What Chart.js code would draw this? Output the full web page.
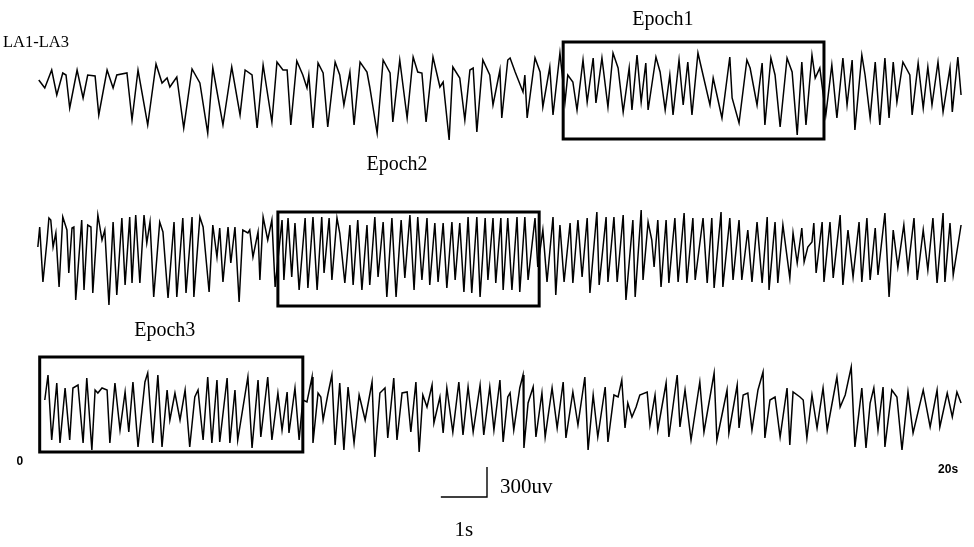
<!DOCTYPE html>
<html>
<head>
<meta charset="utf-8">
<title>LA1-LA3</title>
<script src="https://cdn.jsdelivr.net/npm/chart.js@4.4.1/dist/chart.umd.min.js"></script>
<style>
  html, body { margin: 0; padding: 0; background: #fff; }
  canvas { display: block; }
</style>
</head>
<body>
<canvas id="eeg" width="974" height="547"></canvas>
<script>
// LA1-LA3 bipolar channel, three rows of 20 s each.
// Times in seconds, amplitudes in uV (turning points of the trace).
const row1Time = [0.02,0.15,0.30,0.41,0.54,0.61,0.69,0.85,0.98,1.08,1.24,1.32,1.50,1.63,1.71,1.93,2.04,2.17,2.38,2.56,2.69,2.80,2.86,3.01,3.16,3.34,3.51,3.68,3.79,4.01,4.20,4.38,4.49,4.64,4.75,4.88,
  5.07,5.18,5.31,5.40,5.48,5.61,5.74,5.83,5.87,5.96,6.07,6.18,6.28,6.44,6.54,6.63,6.76,6.85,6.98,7.13,7.19,7.35,7.48,7.63,7.69,7.84,8.00,8.13,8.23,8.32,8.41,8.56,8.65,8.71,8.78,8.91,8.99,9.14,9.25,9.36,9.43,9.51,9.64,9.79,9.86,10.01,10.05,10.18,
  10.23,10.34,10.51,10.55,10.60,10.77,10.88,10.94,11.09,11.16,11.31,11.42,11.48,11.59,11.68,11.81,11.90,12.03,12.09,12.22,12.35,12.46,12.57,12.68,12.81,12.87,12.98,13.07,13.17,13.22,13.39,13.48,13.59,13.69,13.76,13.89,13.98,14.08,14.17,14.30,14.41,14.56,14.63,14.82,14.99,15.04,15.19,15.36,
  15.43,15.58,15.69,15.75,15.88,15.97,16.08,16.23,16.34,16.45,16.55,16.64,16.77,16.84,16.94,17.07,17.20,17.31,17.44,17.53,17.64,17.70,17.85,17.92,18.03,18.14,18.24,18.35,18.44,18.53,18.61,18.74,18.89,18.94,19.07,19.18,19.28,19.37,19.50,19.61,19.76,19.81,19.93,20.00];
const row1Volt = [150,70,250,0,220,200,-130,250,-30,200,190,-200,250,70,200,220,-250,250,-300,310,120,170,80,180,-330,260,120,-380,270,-300,280,-200,250,200,-330,300,
  -270,330,250,250,-300,340,200,70,200,-330,320,220,-320,330,200,-100,230,-300,330,230,80,-380,350,220,-270,350,-230,380,230,220,-270,380,200,80,130,-450,280,170,-250,250,270,-370,350,200,-100,250,-230,350,
  370,230,30,200,-230,370,230,-120,280,-200,420,-70,200,130,-150,350,-70,370,-80,370,-120,420,270,-170,270,-150,400,-70,320,-150,380,230,-150,200,-200,350,-100,330,-200,420,200,-100,170,-230,380,-30,-280,350,
  270,-100,320,-300,370,200,-320,370,230,-400,330,-300,400,170,270,-200,300,-230,370,-100,350,-350,400,200,-230,330,-300,370,-230,330,-70,330,200,-200,320,-130,280,-100,330,-170,270,-170,380,0];

const row2Time = [0.00,0.04,0.11,0.20,0.24,0.28,0.33,0.39,0.46,0.54,0.63,0.67,0.74,0.78,0.82,0.95,1.00,1.08,1.15,1.19,1.30,1.39,1.45,1.54,1.63,1.71,1.82,1.89,1.99,2.04,2.12,2.21,2.30,2.36,2.43,2.51,2.64,2.71,2.82,2.95,3.01,3.14,3.21,3.34,3.38,3.51,3.58,3.71,3.79,3.88,3.94,4.01,4.12,4.18,4.27,4.36,4.44,4.55,4.59,4.66,4.77,4.81,4.88,4.98,
  5.07,5.14,5.29,5.33,5.42,5.50,5.57,5.66,5.79,5.85,5.96,6.05,6.15,6.20,6.31,6.37,6.48,6.54,6.65,6.76,6.83,6.93,7.02,7.13,7.19,7.30,7.37,7.48,7.56,7.67,7.76,7.87,7.95,8.06,8.15,8.23,8.32,8.43,8.49,8.60,8.67,8.78,8.86,8.97,9.04,9.14,9.23,9.32,9.40,9.51,9.58,9.69,9.75,9.86,9.92,10.03,10.08,10.18,
  10.27,10.38,10.44,10.55,10.62,10.77,10.83,10.94,11.03,11.16,11.22,11.31,11.40,11.53,11.59,11.70,11.79,11.90,11.96,12.11,12.16,12.31,12.35,12.48,12.55,12.68,12.74,12.89,12.94,13.07,13.11,13.22,13.30,13.35,13.43,13.50,13.61,13.67,13.80,13.87,14.00,14.06,14.19,14.24,14.41,14.50,14.60,14.65,14.80,14.84,14.99,15.06,15.19,15.25,15.38,
  15.47,15.58,15.69,15.80,15.84,15.97,16.03,16.14,16.29,16.36,16.45,16.55,16.60,16.68,16.77,16.81,16.86,16.99,17.03,17.16,17.23,17.38,17.44,17.55,17.66,17.79,17.85,17.96,18.03,18.14,18.20,18.35,18.44,18.53,18.63,18.76,18.85,18.98,19.05,19.18,19.28,19.39,19.48,19.61,19.65,19.76,19.83,20.00];
const row2Volt = [30,230,-320,100,320,300,30,170,-370,330,200,-230,220,230,-500,300,-400,250,230,-430,350,100,200,-550,280,-450,320,-350,330,-330,350,-330,350,70,280,-470,280,180,-480,280,-470,320,-430,330,-470,330,230,-420,250,-70,220,-320,230,-130,230,-520,200,170,200,-70,180,-300,330,100,
  300,-370,300,-300,320,-270,270,-400,320,-380,330,-400,330,-230,320,-300,320,170,-330,250,-350,300,-400,250,-350,330,-270,280,-470,320,-470,300,-280,350,-400,330,-300,320,-350,270,-320,270,-380,280,-300,270,-420,330,-430,330,-470,320,-300,320,-330,320,-400,320,
  -400,330,-420,330,-300,320,-170,200,-320,330,-450,250,-320,270,-330,300,-270,320,-430,380,-350,330,-320,330,-320,350,-500,300,-470,400,-300,280,100,-170,300,-370,300,-330,320,-320,370,-330,320,-300,320,-330,320,-380,380,-370,320,-300,300,-300,200,
  -320,280,-330,330,-400,280,-330,250,-280,170,-130,220,-120,30,80,270,-230,280,-320,280,-280,350,-350,200,-270,280,-320,320,-300,220,-250,370,-470,200,-170,250,-200,320,-300,200,-200,320,-330,370,-320,270,-250,250];

const row3Time = [0.15,0.22,0.30,0.41,0.48,0.59,0.69,0.76,0.87,0.98,1.06,1.17,1.24,1.30,1.39,1.50,1.56,1.67,1.78,1.89,1.97,2.06,2.17,2.32,2.38,2.49,2.60,2.69,2.80,2.86,2.97,3.08,3.19,3.29,3.40,3.47,3.58,3.68,3.77,3.88,3.94,4.10,4.16,4.27,4.33,4.55,4.64,4.77,4.83,4.98,
  5.07,5.20,5.29,5.40,5.44,5.57,5.66,5.74,5.83,5.94,5.96,6.07,6.13,6.18,6.28,6.37,6.44,6.54,6.63,6.72,6.85,6.96,7.09,7.24,7.30,7.41,7.52,7.58,7.71,7.78,7.89,8.00,8.08,8.19,8.26,8.34,8.43,8.54,8.58,8.71,8.78,8.86,8.99,9.12,9.21,9.32,9.43,9.58,9.66,9.79,9.88,10.01,10.08,10.18,
  10.23,10.31,10.44,10.51,10.53,10.62,10.73,10.79,10.92,10.99,11.14,11.25,11.38,11.44,11.59,11.70,11.85,11.92,12.03,12.13,12.29,12.35,12.48,12.57,12.65,12.72,12.78,12.87,12.96,13.04,13.20,13.26,13.37,13.43,13.61,13.67,13.85,13.91,14.02,14.15,14.34,14.43,14.65,14.71,14.93,14.97,15.15,15.19,15.28,15.38,
  15.47,15.60,15.71,15.75,15.86,15.97,16.08,16.23,16.29,16.36,16.51,16.58,16.66,16.77,16.88,17.01,17.10,17.31,17.38,17.49,17.62,17.70,17.85,17.94,18.03,18.11,18.20,18.31,18.35,18.50,18.61,18.72,18.85,18.96,19.18,19.33,19.48,19.54,19.70,19.81,19.91,20.00];
const row3Volt = [50,300,-350,220,-380,170,-350,170,200,-380,270,-450,150,120,170,150,-380,220,-250,130,-270,230,-420,230,320,-380,300,-420,150,-150,120,-150,150,-420,80,150,-350,280,-380,250,-370,270,-380,150,-350,280,-430,250,-320,280,
  -350,120,-250,130,-280,170,-350,50,30,280,-380,120,80,-150,100,300,-400,220,-450,180,-380,100,-150,230,-520,120,170,-330,270,-350,120,130,-270,230,-470,100,-20,200,-180,80,-280,170,-270,230,-300,180,-270,200,-300,180,-250,250,-370,80,
  120,-250,170,300,-430,20,180,-320,120,-320,170,-230,230,-330,130,-200,280,-450,100,-320,180,-370,100,80,250,-230,20,-120,-20,100,130,-200,100,-250,220,-320,300,-220,150,-350,230,-270,320,-350,150,-280,200,-230,100,120,
  -250,150,330,-330,50,80,-320,170,-400,130,80,50,-330,100,-230,170,-250,280,-20,100,380,-420,170,-430,20,170,-250,180,-420,150,80,-450,130,-280,150,-220,150,-220,120,-120,130,20];

// analysis epochs: row, start / end (s)
const epochNames = ['Epoch1', 'Epoch2', 'Epoch3'];
const epochRow = [0, 1, 2];
const epochStart = [11.38, 5.20, 0.04];
const epochEnd = [17.03, 10.86, 5.74];

// calibration bar
const calUv = 300;
const calSec = 1;

// ---- layout ----
const H = 547;
const UV_PER_PX = 10;
const rowCenter = [95, 250, 405];        // vertical centre of each row, px
const frameTop = [530, 380, 480];        // uV above the row centre
const frameBottom = [-440, -560, -470];
const labelAt = [[13.54, 750], [7.78, 850], [2.75, 740]];  // [s, uV] of each epoch caption
const calAt = [9.73, -920];              // corner of the calibration bar on row 3

const rows = [[row1Time, row1Volt], [row2Time, row2Volt], [row3Time, row3Volt]];

const scales = {
  x: { type: 'linear', display: false, min: -0.82, max: 20.28 }
};
rowCenter.forEach((c, i) => {
  scales['y' + (i + 1)] = {
    type: 'linear', display: false,
    min: -(H - c) * UV_PER_PX, max: c * UV_PER_PX
  };
});

const overlay = {
  id: 'overlay',
  afterDatasetsDraw(chart) {
    const ctx = chart.ctx;
    const x = chart.scales.x;
    ctx.save();
    ctx.fillStyle = '#000';
    ctx.strokeStyle = '#000';

    // epoch frames and captions
    epochNames.forEach((name, i) => {
      const y = chart.scales['y' + (epochRow[i] + 1)];
      const x0 = x.getPixelForValue(epochStart[i]);
      const x1 = x.getPixelForValue(epochEnd[i]);
      const y0 = y.getPixelForValue(frameTop[i]);
      const y1 = y.getPixelForValue(frameBottom[i]);
      ctx.lineWidth = 3;
      ctx.strokeRect(x0, y0, x1 - x0, y1 - y0);
      ctx.font = '20px "Liberation Serif"';
      ctx.textAlign = 'center';
      ctx.textBaseline = 'middle';
      ctx.fillText(name, x.getPixelForValue(labelAt[i][0]), y.getPixelForValue(labelAt[i][1]));
    });

    // channel name
    ctx.font = '16.5px "Liberation Serif"';
    ctx.textAlign = 'left';
    ctx.fillText('LA1-LA3', 3, 43);

    // time span of a row
    const y3 = chart.scales.y3;
    ctx.font = 'bold 12px "Liberation Sans"';
    ctx.textAlign = 'center';
    ctx.fillText('0', x.getPixelForValue(0) - 18, y3.getPixelForValue(-570));
    ctx.fillText('20s', x.getPixelForValue(20) - 13, y3.getPixelForValue(-650));

    // calibration bar
    const cx = x.getPixelForValue(calAt[0]);
    const cy = y3.getPixelForValue(calAt[1]);
    const cTop = y3.getPixelForValue(calAt[1] + calUv);
    const cLeft = x.getPixelForValue(calAt[0] - calSec);
    ctx.lineWidth = 1.4;
    ctx.beginPath();
    ctx.moveTo(cx, cTop);
    ctx.lineTo(cx, cy);
    ctx.lineTo(cLeft, cy);
    ctx.stroke();
    ctx.font = '21px "Liberation Serif"';
    ctx.textAlign = 'left';
    ctx.fillText(calUv + 'uv', cx + 13, (cy + cTop) / 2 + 5);
    ctx.textAlign = 'center';
    ctx.fillText(calSec + 's', (cx + cLeft) / 2, cy + 33);
    ctx.restore();
  }
};

new Chart(document.getElementById('eeg'), {
  type: 'line',
  data: {
    datasets: rows.map(([t, v], i) => ({
      label: 'row ' + (i + 1),
      data: t.map((s, k) => ({ x: s, y: v[k] })),
      yAxisID: 'y' + (i + 1),
      borderColor: '#000',
      borderWidth: 1.5,
      pointRadius: 0,
      tension: 0,
      fill: false
    }))
  },
  options: {
    responsive: false,
    devicePixelRatio: 1,
    animation: false,
    layout: { padding: 0 },
    plugins: { legend: { display: false }, tooltip: { enabled: false } },
    scales: scales
  },
  plugins: [overlay]
});
</script>
</body>
</html>
